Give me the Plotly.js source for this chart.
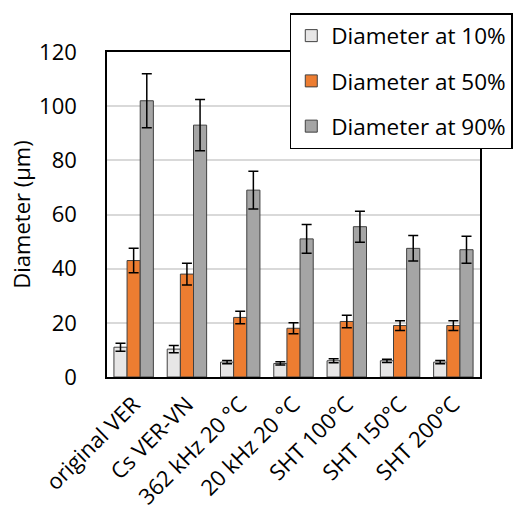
<!DOCTYPE html>
<html><head><meta charset="utf-8">
<script src="https://cdn.plot.ly/plotly-3.0.1.min.js"></script>
<style>body{margin:0;padding:0;background:#fff}</style>
</head><body>
<div id="chart" style="width:525px;height:511px"></div>
<script>
var categories = ["original VER", "Cs VER-VN", "362 kHz 20 °C", "20 kHz 20 °C", "SHT 100°C", "SHT 150°C", "SHT 200°C"];
var d10 = [11, 10.3, 5.5, 5, 6, 6, 5.5];
var d10err = [1.5, 1.3, 0.6, 0.6, 0.7, 0.6, 0.6];
var d50 = [43, 38, 22, 18, 20.5, 19, 19];
var d50err = [4.5, 4, 2.3, 2, 2.3, 1.8, 1.8];
var d90 = [102, 93, 69, 51, 55.5, 47.5, 47];
var d90err = [10, 9.5, 7, 5.3, 5.7, 4.7, 5];
var seriesNames = ["Diameter at 10%", "Diameter at 50%", "Diameter at 90%"];
var colors = ["#e7e6e6", "#ed7d31", "#a5a5a5"];

function mk(i, y, e) {
  return {
    type: "bar", x: categories, y: y, name: seriesNames[i], legendgroup: "g" + i,
    marker: {color: colors[i], line: {color: "#404040", width: 1}},
    error_y: {type: "data", array: e, visible: true, color: "#000", thickness: 1.5, width: 5}
  };
}
var data = [mk(0, d10, d10err), mk(1, d50, d50err), mk(2, d90, d90err)];
var font = {family: "Open Sans, Liberation Sans, sans-serif", size: 22, color: "#000"};
var layout = {
  width: 525, height: 511,
  margin: {l: 107, r: 35, t: 52, b: 134},
  paper_bgcolor: "#fff", plot_bgcolor: "#fff",
  font: font,
  barmode: "group", bargap: 0.26, bargroupgap: 0,
  showlegend: true,
  legend: {x: 0.49, y: 1.12, xanchor: "left", yanchor: "top", bgcolor: "#fff",
    bordercolor: "#000", borderwidth: 1.5, traceorder: "grouped", tracegroupgap: 13,
    itemwidth: 30,
    font: {family: font.family, size: 22.5, color: "#000"}},
  xaxis: {showline: true, linecolor: "#000", linewidth: 1.5, mirror: true, tickangle: -45,
    ticks: "outside", ticklen: 4, tickcolor: "rgba(0,0,0,0)", tickfont: {size: 22}, automargin: false},
  yaxis: {range: [0, 120], dtick: 20, showline: true, linecolor: "#000", linewidth: 1.5, mirror: true,
    showgrid: true, gridcolor: "#d9d9d9", gridwidth: 1.5,
    ticks: "outside", ticklen: 24, tickcolor: "rgba(0,0,0,0)", tickfont: {size: 22},
    zeroline: false, automargin: false,
    title: {text: "Diameter (µm)", font: {size: 22}, standoff: 2}}
};
Plotly.newPlot("chart", data, layout, {displayModeBar: false});
</script>
</body></html>
